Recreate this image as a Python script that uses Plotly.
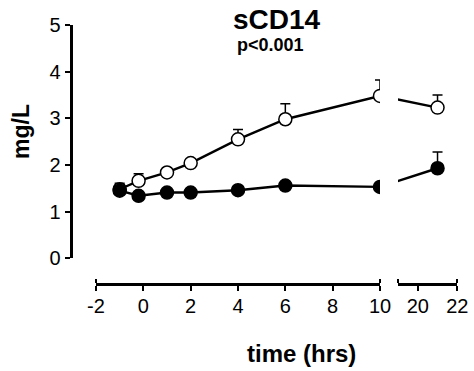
import plotly.graph_objects as go

# ---- data ----
times = [-1, -0.2, 1, 2, 4, 6, 10, 21]
open_vals = [1.48, 1.66, 1.84, 2.04, 2.55, 2.98, 3.48, 3.23]
open_err = [0.08, 0.15, 0.08, 0.08, 0.21, 0.33, 0.34, 0.27]
filled_vals = [1.45, 1.34, 1.41, 1.41, 1.46, 1.56, 1.53, 1.93]
filled_err = [0.16, 0.05, 0.05, 0.05, 0.05, 0.05, 0.05, 0.35]

x1_ticks = [-2, 0, 2, 4, 6, 8, 10]
x1_ticktext = ["-2", "0", "2", "4", "6", "8", "10"]
x2_ticks = [19, 20, 22]
x2_ticktext = ["", "20", "22"]
y_ticks = [0, 1, 2, 3, 4, 5]

X1_RANGE = [-2, 10]
X2_RANGE = [19, 22]
Y_RANGE = [0, 5]
BREAK = 15

W, H = 474, 371


def fx(px):
    return px / W


def fy(py):
    return 1 - py / H


X1_DOM = [fx(96), fx(380)]
X2_DOM = [fx(398), fx(457.3)]
Y_DOM = [fy(258.3), fy(25)]

FONT = "Arial, Liberation Sans, Helvetica, sans-serif"


def x1_to_x2(v):
    # pixel position in axis 1 converted into axis-2 data units (line bridging the break)
    frac = X1_DOM[0] + (v - X1_RANGE[0]) / (X1_RANGE[1] - X1_RANGE[0]) * (X1_DOM[1] - X1_DOM[0])
    return X2_RANGE[0] + (frac - X2_DOM[0]) / (X2_DOM[1] - X2_DOM[0]) * (X2_RANGE[1] - X2_RANGE[0])


fig = go.Figure()


def add_series(vals, errs, fill):
    i1 = [i for i, t in enumerate(times) if t < BREAK]
    i2 = [i for i, t in enumerate(times) if t > BREAK]
    marker = dict(size=13, color=fill, line=dict(color="black", width=1.5))
    eb = lambda idx: dict(type="data", symmetric=False,
                          array=[errs[i] for i in idx], arrayminus=[0] * len(idx),
                          color="black", thickness=1.5, width=5)
    fig.add_trace(go.Scatter(
        x=[times[i] for i in i1], y=[vals[i] for i in i1],
        mode="lines+markers", line=dict(color="black", width=2.4),
        marker=marker, error_y=eb(i1), xaxis="x", yaxis="y", showlegend=False))
    last = i1[-1]
    fig.add_trace(go.Scatter(
        x=[x1_to_x2(times[last])] + [times[i] for i in i2],
        y=[vals[last]] + [vals[i] for i in i2],
        mode="lines", line=dict(color="black", width=2.4),
        xaxis="x2", yaxis="y", showlegend=False, hoverinfo="skip"))
    fig.add_trace(go.Scatter(
        x=[times[i] for i in i2], y=[vals[i] for i in i2],
        mode="markers", marker=marker, error_y=eb(i2),
        xaxis="x2", yaxis="y", showlegend=False))


add_series(open_vals, open_err, "white")
add_series(filled_vals, filled_err, "black")

axis_common = dict(showline=True, linecolor="black", linewidth=3, ticks="outside",
                   ticklen=5, tickwidth=2, tickcolor="black", showgrid=False,
                   zeroline=False, automargin=False,
                   tickfont=dict(family=FONT, size=20, color="black"))

fig.update_layout(
    width=W, height=H,
    margin=dict(l=0, r=0, t=0, b=0, pad=0),
    paper_bgcolor="white", plot_bgcolor="white",
    xaxis=dict(domain=X1_DOM, range=X1_RANGE, anchor="free", position=fy(284),
               tickmode="array", tickvals=x1_ticks, ticktext=x1_ticktext, ticklabelstandoff=-2,
               minor=dict(tickmode="array", tickvals=[X1_RANGE[0], X1_RANGE[1]], ticks="inside",
                          ticklen=4, tickwidth=2, tickcolor="black"),
               **axis_common),
    xaxis2=dict(domain=X2_DOM, range=X2_RANGE, anchor="free", position=fy(284),
                tickmode="array", tickvals=x2_ticks, ticktext=x2_ticktext, ticklabelstandoff=-2,
                minor=dict(tickmode="array", tickvals=[X2_RANGE[0], X2_RANGE[1]], ticks="inside",
                           ticklen=4, tickwidth=2, tickcolor="black"),
                **axis_common),
    yaxis=dict(domain=Y_DOM, range=Y_RANGE, anchor="free", position=fx(70.5),
               tickmode="array", tickvals=y_ticks, **axis_common),
    annotations=[
        dict(text="<b>sCD14</b>", x=fx(276.5), y=fy(19), xref="paper", yref="paper",
             showarrow=False, xanchor="center", yanchor="middle",
             font=dict(family=FONT, size=28, color="black")),
        dict(text="<b>p<0.001</b>", x=fx(270.5), y=fy(45), xref="paper", yref="paper",
             showarrow=False, xanchor="center", yanchor="middle",
             font=dict(family=FONT, size=18, color="black")),
        dict(text="<b>mg/L</b>", x=fx(21), y=fy(132), xref="paper", yref="paper",
             showarrow=False, xanchor="center", yanchor="middle", textangle=-90,
             font=dict(family=FONT, size=23, color="black")),
        dict(text="<b>time (hrs)</b>", x=fx(301.7), y=fy(353), xref="paper", yref="paper",
             showarrow=False, xanchor="center", yanchor="middle",
             font=dict(family=FONT, size=24, color="black")),
    ],
)

# remove the browser's default 8px body margin so the figure fills the window
fig.write_html("out.html", config={"displayModeBar": False},
               post_script="document.body.style.margin='0';")
